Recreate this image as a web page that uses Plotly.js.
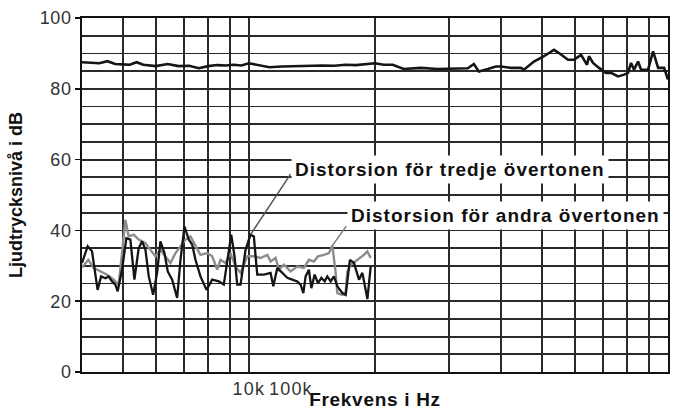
<!DOCTYPE html>
<html>
<head>
<meta charset="utf-8">
<script src="https://cdn.plot.ly/plotly-3.0.1.min.js"></script>
<style>
  html, body { margin: 0; padding: 0; background: #fff; }
  #chart { width: 673px; height: 410px; }
  .annotation-text { letter-spacing: 1px; }
  .xtick text { letter-spacing: 1.2px; }
  .ytick text { letter-spacing: 0.6px; }
  text.xtitle { letter-spacing: 0.7px; }
</style>
</head>
<body>
<div id="chart"></div>
<script>
// Frequency response (Hz, dB)
const mainFreq = [20,21,22,23,24,25,26,27,28,30,32,34,36,38,40,42,44,46,48,50,53,56,60,63,67,71,75,80,85,90,95,100,104.9,110.2,117.1,128.6,141.2,151.6,166.5,172.1,176.9,185.9,194.3,199.7,211.0,222.9,226.6,239.4,253.0,267.3,274.7,288.7,298.3,310.1,315.2,320.5,324.0,331.2,342.3,355.7,365.7,380.0,392.8,401.5,408.2,415.0,424.2,431.3,448.2,460.7,473.6,489.4,500];
const mainDb = [87.5,87.3,87.2,87.8,87.0,86.9,86.8,87.5,86.8,86.4,87.0,86.4,86.5,85.8,86.4,86.7,86.6,86.8,86.6,87.2,86.7,86.1,86.3,86.4,86.5,86.5,86.6,86.5,86.8,86.7,86.9,87.2,86.8,86.8,85.6,85.9,85.6,85.6,85.8,87.0,84.9,85.6,86.3,86.3,85.9,85.9,85.4,87.7,89.2,91.0,90.1,88.2,88.2,89.6,88.2,86.8,89.2,87.3,85.9,84.5,84.5,83.5,84.0,84.5,87.3,85.4,87.7,85.4,85.4,90.6,85.9,85.9,82.6];

// Third harmonic distortion
const h3Freq = [20.0,20.63,21.13,21.51,21.79,22.21,22.74,23.15,23.59,24.02,24.33,24.92,25.52,26.09,26.67,27.31,27.83,28.34,28.86,29.56,30.21,30.77,31.46,32.03,32.82,33.73,34.35,35.12,35.95,36.63,37.30,38.34,39.63,40.89,42.40,43.58,44.40,45.40,46.23,46.91,47.78,49.11,50.48,51.40,52.37,54.32,56.35,57.20,58.46,60.10,61.77,63.49,65.25,66.46,67.46,68.31,69.56,70.49,71.79,73.10,74.48,75.84,76.96,78.38,79.81,81.31,83.59,85.12,87.13,89.09,91.58,93.31,95.90,97.66];
const h3Db = [30.8,35.5,34.1,28,23.2,27,26.5,27,25.6,24.7,22.8,28.9,37.8,37.4,26.1,35.0,36.9,34.5,27,21.8,28,36.9,33.6,28.4,26.1,20.9,31.7,41.1,37.4,36,31.7,27,23.2,26.1,25.6,24.7,31.7,38.8,32.7,24.7,24.7,34.5,38.8,38.3,27.5,27.5,28,24.2,29.4,28,26.6,26.1,25.6,24.7,22.3,27,28.9,23.7,27.5,25.1,26.6,25.6,27,25.6,27,24.2,22.3,21.8,31.7,30.8,26.1,28,20.6,29.8];

// Second harmonic distortion
const h2Freq = [20.0,20.71,21.32,22.12,22.95,23.80,24.46,24.92,25.38,25.84,26.57,27.31,28.34,29.12,29.93,30.77,31.63,32.51,33.42,34.35,35.31,36.29,37.30,38.34,39.79,40.89,42.04,42.80,43.99,45.22,46.48,47.78,49.58,51.40,53.34,55.35,56.35,57.92,58.98,60.63,62.90,65.25,67.68,69.56,71.51,73.10,75.55,77.65,79.12,80.57,81.31,83.59,85.12,85.91,87.49,90.79,94.13,95.90,97.66];
const h2Db = [29.5,31.7,29.4,28.4,27.5,26.1,24.7,33.6,43.0,38.3,38.8,37.4,36.4,34.5,32.7,34.5,32.7,30.8,33.6,35.5,37.4,38.3,35.5,33.1,33.6,32.7,28.9,31.7,30.8,33.6,29.8,28,32.7,32.7,32.2,33.1,31.2,32.2,28.9,30.3,28.4,29.8,29.4,31.7,31.2,32.7,33.1,33.6,35.7,28,22.3,21.8,22.3,28.4,30.3,31.7,33.1,34.1,32.2];

// Axis ticks / grid
const xGridVals = [25,30,35,40,45,50,100,150,200,250,300,350,400,450];
const xTickVals = [50, 63];
const xTickText = ['10k', '100k'];
const yTickVals = [0, 20, 40, 60, 80, 100];

// Labels
const labelH3 = 'Distorsion för tredje övertonen';
const labelH2 = 'Distorsion för andra övertonen';
const xTitle = 'Frekvens i Hz';
const yTitle = 'Ljudtrycksnivå i dB';
const h3PeakIdx = 42;
const h2PeakIdx = 48;

const FONT = 'Liberation Sans, Arial, Helvetica, sans-serif';
const GRID = '#2a2a2a';

const traces = [
  { x: mainFreq, y: mainDb, type: 'scatter', mode: 'lines',
    line: { color: '#151515', width: 2.6 }, hoverinfo: 'skip' },
  { x: h2Freq, y: h2Db, type: 'scatter', mode: 'lines',
    line: { color: '#8c8c8c', width: 2.4 }, hoverinfo: 'skip' },
  { x: h3Freq, y: h3Db, type: 'scatter', mode: 'lines',
    line: { color: '#151515', width: 2.3 }, hoverinfo: 'skip' }
];

const layout = {
  width: 673, height: 410,
  margin: { l: 82, r: 5, t: 18, b: 38 },
  paper_bgcolor: '#ffffff', plot_bgcolor: '#ffffff',
  showlegend: false,
  font: { family: FONT, color: '#222' },
  xaxis: {
    type: 'log',
    range: [Math.log10(20), Math.log10(500)],
    tickmode: 'array', tickvals: xTickVals, ticktext: xTickText, tickangle: 0,
    showgrid: false, ticks: '',
    tickfont: { family: FONT, size: 18, color: '#333' },
    showline: true, linecolor: '#111', linewidth: 1.8, mirror: true,
    zeroline: false,
    minor: { tickmode: 'array', tickvals: xGridVals, showgrid: true,
             gridcolor: GRID, gridwidth: 1.8, ticks: '' },
    title: { text: xTitle, font: { family: FONT, size: 19, color: '#111', weight: 'bold' }, standoff: 0 },
    automargin: false
  },
  yaxis: {
    range: [0, 100],
    tickmode: 'array', tickvals: yTickVals, tickangle: 0,
    showgrid: true, gridcolor: GRID, gridwidth: 1.8,
    ticks: 'outside', ticklen: 5, tickcolor: '#111', tickwidth: 1.5,
    tickfont: { family: FONT, size: 18, color: '#333' },
    showline: true, linecolor: '#111', linewidth: 1.8, mirror: true,
    zeroline: false,
    minor: { dtick: 5, showgrid: true, gridcolor: GRID, gridwidth: 1.8, ticks: '' },
    title: { text: yTitle, font: { family: FONT, size: 18, color: '#111', weight: 'bold' }, standoff: 12 },
    automargin: false
  },
  annotations: [
    { xref: 'paper', yref: 'paper', x: 0.356, y: 0.5715, xanchor: 'left', yanchor: 'middle',
      text: labelH3, showarrow: false, bgcolor: '#ffffff', borderpad: 3,
      font: { family: FONT, size: 19, color: '#111', weight: 'bold' } },
    { xref: 'paper', yref: 'paper', x: 0.452, y: 0.4415, xanchor: 'left', yanchor: 'middle',
      text: labelH2, showarrow: false, bgcolor: '#ffffff', borderpad: 3,
      font: { family: FONT, size: 19, color: '#111', weight: 'bold' } },
    { xref: 'x', yref: 'y', x: Math.log10(h3Freq[h3PeakIdx]), y: h3Db[h3PeakIdx],
      text: '', showarrow: true, arrowhead: 0, arrowwidth: 1.5, arrowcolor: '#555',
      ax: 41, ay: -62, standoff: 0, startstandoff: 0 },
    { xref: 'x', yref: 'y', x: Math.log10(h2Freq[h2PeakIdx]), y: h2Db[h2PeakIdx],
      text: '', showarrow: true, arrowhead: 0, arrowwidth: 1.5, arrowcolor: '#777',
      ax: 15, ay: -21, standoff: 0, startstandoff: 0 }
  ]
};

Plotly.newPlot('chart', traces, layout, { staticPlot: true, displayModeBar: false });
</script>
</body>
</html>
